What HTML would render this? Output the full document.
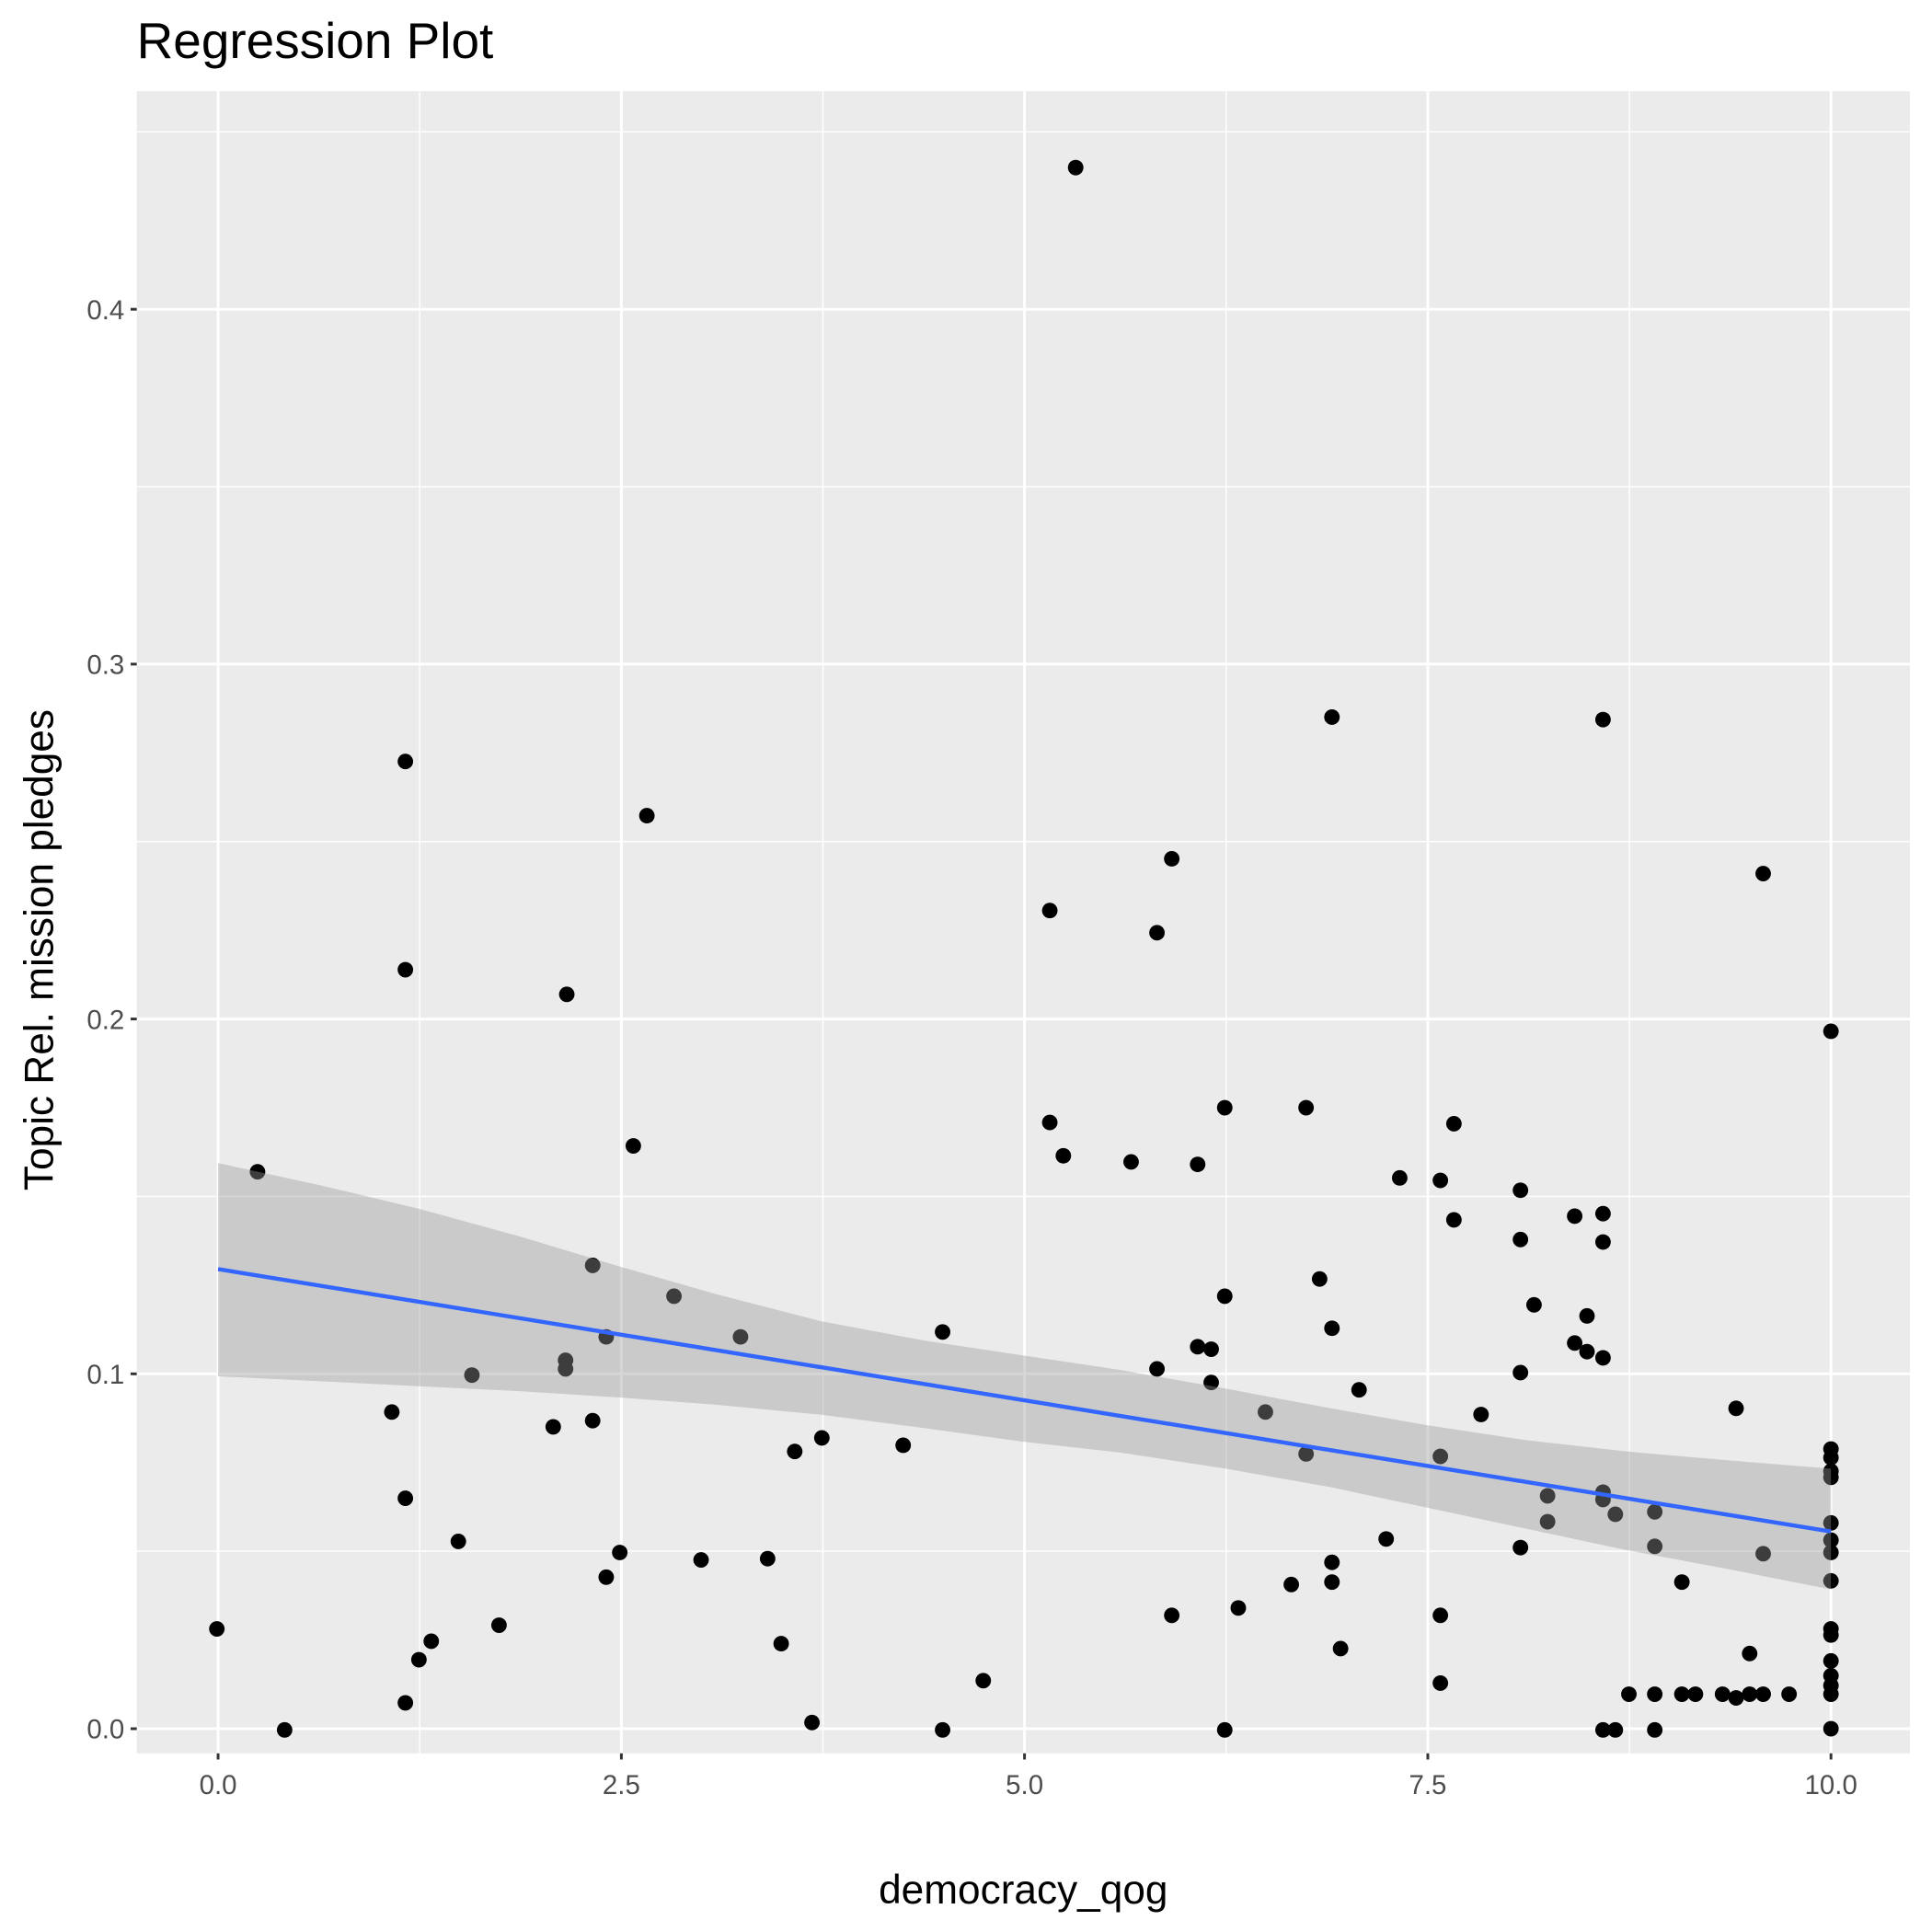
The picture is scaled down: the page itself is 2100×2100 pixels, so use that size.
<!DOCTYPE html>
<html><head><style>html,body{margin:0;padding:0;background:#fff}svg{display:block}</style></head>
<body>
<svg width="2100" height="2100" viewBox="0 0 1568 1568" xmlns="http://www.w3.org/2000/svg" font-family="Liberation Sans, sans-serif">
<rect width="1568" height="1568" fill="#fff"/>
<rect x="111" y="74" width="1439" height="1349" fill="#ebebeb"/>
<g stroke="#fff" stroke-width="1.1">
<line x1="111" x2="1550" y1="1259" y2="1259"/><line x1="111" x2="1550" y1="971" y2="971"/><line x1="111" x2="1550" y1="683" y2="683"/><line x1="111" x2="1550" y1="395" y2="395"/><line x1="111" x2="1550" y1="107" y2="107"/>
<line y1="74" y2="1423" x1="340.6" x2="340.6"/><line y1="74" y2="1423" x1="667.9" x2="667.9"/><line y1="74" y2="1423" x1="995.1" x2="995.1"/><line y1="74" y2="1423" x1="1322.4" x2="1322.4"/>
</g>
<g stroke="#fff" stroke-width="2.2">
<line x1="111" x2="1550" y1="1403" y2="1403"/><line x1="111" x2="1550" y1="1115" y2="1115"/><line x1="111" x2="1550" y1="827" y2="827"/><line x1="111" x2="1550" y1="539" y2="539"/><line x1="111" x2="1550" y1="251" y2="251"/>
<line y1="74" y2="1423" x1="177" x2="177"/><line y1="74" y2="1423" x1="504.3" x2="504.3"/><line y1="74" y2="1423" x1="831.5" x2="831.5"/><line y1="74" y2="1423" x1="1158.8" x2="1158.8"/><line y1="74" y2="1423" x1="1486" x2="1486"/>
</g>
<g fill="#000">
<circle cx="873" cy="136" r="6.3"/><circle cx="1081" cy="582" r="6.3"/><circle cx="1301" cy="584" r="6.3"/><circle cx="329" cy="618" r="6.3"/><circle cx="525" cy="662" r="6.3"/><circle cx="951" cy="697" r="6.3"/><circle cx="1431" cy="709" r="6.3"/><circle cx="852" cy="739" r="6.3"/><circle cx="939" cy="757" r="6.3"/><circle cx="329" cy="787" r="6.3"/><circle cx="460" cy="807" r="6.3"/><circle cx="1486" cy="837" r="6.3"/><circle cx="852" cy="911" r="6.3"/><circle cx="1060" cy="899" r="6.3"/><circle cx="1180" cy="912" r="6.3"/><circle cx="514" cy="930" r="6.3"/><circle cx="863" cy="938" r="6.3"/><circle cx="918" cy="943" r="6.3"/><circle cx="972" cy="945" r="6.3"/><circle cx="994" cy="899" r="6.3"/><circle cx="209" cy="951" r="6.3"/><circle cx="1136" cy="956" r="6.3"/><circle cx="1169" cy="958" r="6.3"/><circle cx="1234" cy="966" r="6.3"/><circle cx="1180" cy="990" r="6.3"/><circle cx="1278" cy="987" r="6.3"/><circle cx="1301" cy="985" r="6.3"/><circle cx="1234" cy="1006" r="6.3"/><circle cx="1301" cy="1008" r="6.3"/><circle cx="481" cy="1027" r="6.3"/><circle cx="1071" cy="1038" r="6.3"/><circle cx="547" cy="1052" r="6.3"/><circle cx="994" cy="1052" r="6.3"/><circle cx="1245" cy="1059" r="6.3"/><circle cx="1288" cy="1068" r="6.3"/><circle cx="1081" cy="1078" r="6.3"/><circle cx="765" cy="1081" r="6.3"/><circle cx="601" cy="1085" r="6.3"/><circle cx="492" cy="1085" r="6.3"/><circle cx="1278" cy="1090" r="6.3"/><circle cx="1288" cy="1097" r="6.3"/><circle cx="972" cy="1093" r="6.3"/><circle cx="983" cy="1095" r="6.3"/><circle cx="459" cy="1104" r="6.3"/><circle cx="459" cy="1111" r="6.3"/><circle cx="939" cy="1111" r="6.3"/><circle cx="1301" cy="1102" r="6.3"/><circle cx="1234" cy="1114" r="6.3"/><circle cx="383" cy="1116" r="6.3"/><circle cx="983" cy="1122" r="6.3"/><circle cx="1103" cy="1128" r="6.3"/><circle cx="318" cy="1146" r="6.3"/><circle cx="1409" cy="1143" r="6.3"/><circle cx="1027" cy="1146" r="6.3"/><circle cx="1202" cy="1148" r="6.3"/><circle cx="481" cy="1153" r="6.3"/><circle cx="449" cy="1158" r="6.3"/><circle cx="667" cy="1167" r="6.3"/><circle cx="733" cy="1173" r="6.3"/><circle cx="645" cy="1178" r="6.3"/><circle cx="1060" cy="1180" r="6.3"/><circle cx="1169" cy="1182" r="6.3"/><circle cx="1486" cy="1176" r="6.3"/><circle cx="1486" cy="1183" r="6.3"/><circle cx="1486" cy="1194" r="6.3"/><circle cx="1486" cy="1199" r="6.3"/><circle cx="1256" cy="1214" r="6.3"/><circle cx="1301" cy="1211" r="6.3"/><circle cx="1301" cy="1217" r="6.3"/><circle cx="329" cy="1216" r="6.3"/><circle cx="1311" cy="1229" r="6.3"/><circle cx="1343" cy="1227" r="6.3"/><circle cx="1256" cy="1235" r="6.3"/><circle cx="1486" cy="1236" r="6.3"/><circle cx="1125" cy="1249" r="6.3"/><circle cx="372" cy="1251" r="6.3"/><circle cx="1234" cy="1256" r="6.3"/><circle cx="1343" cy="1255" r="6.3"/><circle cx="1486" cy="1250" r="6.3"/><circle cx="1486" cy="1260" r="6.3"/><circle cx="503" cy="1260" r="6.3"/><circle cx="1431" cy="1261" r="6.3"/><circle cx="569" cy="1266" r="6.3"/><circle cx="623" cy="1265" r="6.3"/><circle cx="1081" cy="1268" r="6.3"/><circle cx="492" cy="1280" r="6.3"/><circle cx="1365" cy="1284" r="6.3"/><circle cx="1486" cy="1283" r="6.3"/><circle cx="1048" cy="1286" r="6.3"/><circle cx="1081" cy="1284" r="6.3"/><circle cx="1005" cy="1305" r="6.3"/><circle cx="951" cy="1311" r="6.3"/><circle cx="1169" cy="1311" r="6.3"/><circle cx="405" cy="1319" r="6.3"/><circle cx="176" cy="1322" r="6.3"/><circle cx="1486" cy="1322" r="6.3"/><circle cx="1486" cy="1327" r="6.3"/><circle cx="350" cy="1332" r="6.3"/><circle cx="634" cy="1334" r="6.3"/><circle cx="1088" cy="1338" r="6.3"/><circle cx="1420" cy="1342" r="6.3"/><circle cx="340" cy="1347" r="6.3"/><circle cx="1486" cy="1348" r="6.3"/><circle cx="1486" cy="1360" r="6.3"/><circle cx="798" cy="1364" r="6.3"/><circle cx="1169" cy="1366" r="6.3"/><circle cx="1486" cy="1368" r="6.3"/><circle cx="1322" cy="1375" r="6.3"/><circle cx="1343" cy="1375" r="6.3"/><circle cx="1365" cy="1375" r="6.3"/><circle cx="1376" cy="1375" r="6.3"/><circle cx="1398" cy="1375" r="6.3"/><circle cx="1420" cy="1375" r="6.3"/><circle cx="1431" cy="1375" r="6.3"/><circle cx="1452" cy="1375" r="6.3"/><circle cx="1486" cy="1375" r="6.3"/><circle cx="1409" cy="1378" r="6.3"/><circle cx="329" cy="1382" r="6.3"/><circle cx="659" cy="1398" r="6.3"/><circle cx="231" cy="1404" r="6.3"/><circle cx="765" cy="1404" r="6.3"/><circle cx="994" cy="1404" r="6.3"/><circle cx="1301" cy="1404" r="6.3"/><circle cx="1311" cy="1404" r="6.3"/><circle cx="1343" cy="1404" r="6.3"/><circle cx="1486" cy="1403" r="6.3"/>
</g>
<polygon fill="#999" fill-opacity="0.4" points="177,944 260,962 340,981 420,1003 500,1027 580,1050 665,1072 750,1088 830,1100 910,1112 995,1127 1080,1143 1160,1157 1240,1169 1320,1178 1400,1185 1486,1192 1486,1290 1400,1273 1320,1258 1240,1241 1160,1224 1080,1207 995,1192 910,1179 830,1170 750,1159 665,1148 580,1140 500,1134 420,1129 340,1125 260,1121 177,1117"/>
<line x1="177" y1="1030" x2="1486" y2="1243" stroke="#3366FF" stroke-width="3.3"/>
<g stroke="#333" stroke-width="2.2">
<line x1="106" x2="111" y1="1403" y2="1403"/><line x1="106" x2="111" y1="1115" y2="1115"/><line x1="106" x2="111" y1="827" y2="827"/><line x1="106" x2="111" y1="539" y2="539"/><line x1="106" x2="111" y1="251" y2="251"/>
<line y1="1423" y2="1428" x1="177" x2="177"/><line y1="1423" y2="1428" x1="504.3" x2="504.3"/><line y1="1423" y2="1428" x1="831.5" x2="831.5"/><line y1="1423" y2="1428" x1="1158.8" x2="1158.8"/><line y1="1423" y2="1428" x1="1486" x2="1486"/>
</g>
<g fill="#4d4d4d" font-size="22" text-anchor="end">
<text x="101" y="1411">0.0</text><text x="101" y="1123">0.1</text><text x="101" y="835">0.2</text><text x="101" y="547">0.3</text><text x="101" y="259">0.4</text>
</g>
<g fill="#4d4d4d" font-size="22" text-anchor="middle">
<text x="177" y="1456">0.0</text><text x="504.3" y="1456">2.5</text><text x="831.5" y="1456">5.0</text><text x="1158.8" y="1456">7.5</text><text x="1486" y="1456">10.0</text>
</g>
<text x="830.5" y="1545" font-size="33" text-anchor="middle" fill="#000">democracy_qog</text>
<text transform="translate(43,771) rotate(-90)" font-size="33" text-anchor="middle" fill="#000">Topic Rel. mission pledges</text>
<text x="111" y="47" font-size="41" fill="#000">Regression Plot</text>
</svg>
</body></html>
